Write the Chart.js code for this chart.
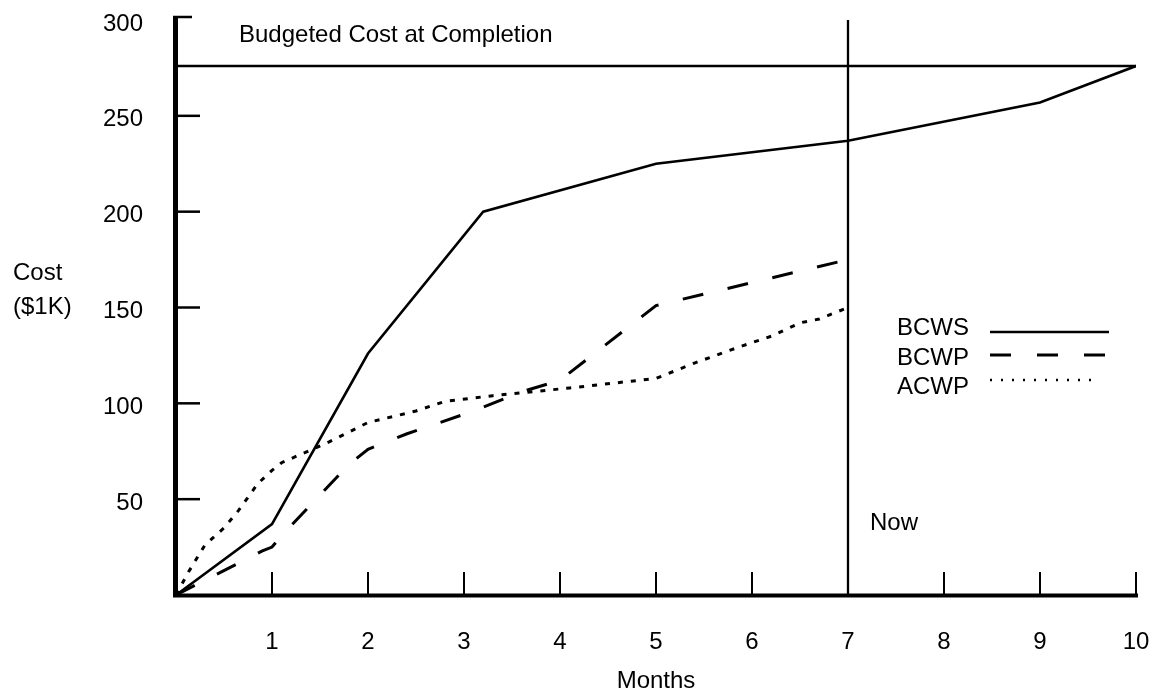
<!DOCTYPE html>
<html>
<head>
<meta charset="utf-8">
<title>Earned Value</title>
<script src="https://cdn.jsdelivr.net/npm/chart.js@4.4.1/dist/chart.umd.min.js"></script>
<style>
  html, body { margin: 0; padding: 0; background: #fff; }
  #wrap { width: 1156px; height: 697px; }
</style>
</head>
<body>
<div id="wrap"><canvas id="chart" width="1156" height="697"></canvas></div>
<script>
// values (months, cost in $1K)
const bcwsMonths = [0, 1, 2, 3.2, 5, 7, 9, 10];
const bcwsCost = [0, 37, 126, 200, 225, 237, 257, 276];

const bcwpMonths = [0, 0.9, 1, 1.1, 1.8, 2, 2.4, 3.1, 3.6, 4, 5, 7];
const bcwpCost = [0, 23, 25, 31, 68, 76, 84, 96, 106, 112, 151, 175];

const acwpMonths = [0, 0.13, 0.3, 0.5, 0.65, 0.85, 1, 1.1, 1.6, 2, 2.5, 2.8, 3.3, 4.1, 5, 5.4, 5.9, 6.2, 6.5, 6.7, 7];
const acwpCost = [0, 12, 26, 35, 44, 58, 65, 69, 80, 90, 96, 101, 104, 108, 113, 121, 130, 135, 142, 144, 150];

const budgetAtCompletion = 276;
const nowMonth = 7;
const monthTicks = [1, 2, 3, 4, 5, 6, 7, 8, 9, 10];
const costTicks = [50, 100, 150, 200, 250, 300];

const FONT = "'Liberation Sans', Arial, sans-serif";

const pts = (xs, ys) => xs.map((x, i) => ({ x: x, y: ys[i] }));

const legendItems = [
    { label: "BCWS", dash: [], width: 2.6 },
    { label: "BCWP", dash: [21, 26], width: 3 },
    { label: "ACWP", dash: [2, 9], width: 2.6 }
];

// no extra room for half labels, the layout padding handles it
const noPad = s => {
    s.paddingTop = 0;
    s.paddingBottom = 0;
    s.paddingLeft = 0;
    s.paddingRight = 0;
};

// axes, inside ticks, notes and legend
const decor = {
    id: "decor",
    afterDatasetsDraw(c) {
        const ctx = c.ctx;
        const xs = c.scales.x, ys = c.scales.y;
        const x0 = xs.getPixelForValue(0);
        const y0 = ys.getPixelForValue(0);
        const yTop = ys.getPixelForValue(300);
        ctx.save();
        ctx.strokeStyle = "#000";
        ctx.lineCap = "butt";

        // y ticks pointing right
        ctx.lineWidth = 2.5;
        costTicks.forEach(v => {
            if (v === 300) return;
            const y = ys.getPixelForValue(v);
            ctx.beginPath();
            ctx.moveTo(x0, y);
            ctx.lineTo(x0 + 24, y);
            ctx.stroke();
        });
        ctx.beginPath();
        ctx.moveTo(x0 - 3, yTop - 3);
        ctx.lineTo(x0 + 16, yTop - 3);
        ctx.stroke();

        // x ticks pointing up
        ctx.lineWidth = 2;
        monthTicks.forEach(m => {
            const x = xs.getPixelForValue(m);
            ctx.beginPath();
            ctx.moveTo(x, y0);
            ctx.lineTo(x, y0 - 23);
            ctx.stroke();
        });

        // heavy axis lines
        ctx.lineWidth = 5;
        ctx.beginPath();
        ctx.moveTo(x0 - 0.5, yTop - 3);
        ctx.lineTo(x0 - 0.5, y0 + 2);
        ctx.stroke();
        ctx.lineWidth = 4;
        ctx.beginPath();
        ctx.moveTo(x0 - 3, y0 + 0.5);
        ctx.lineTo(xs.getPixelForValue(10) + 2, y0 + 0.5);
        ctx.stroke();

        // notes
        ctx.fillStyle = "#000";
        ctx.font = "24px " + FONT;
        ctx.textAlign = "left";
        ctx.textBaseline = "alphabetic";
        ctx.fillText("Budgeted Cost at Completion", 239, 42);
        ctx.fillText("Now", 870, 530);
        ctx.fillText("Cost", 13, 280);
        ctx.fillText("($1K)", 13, 314);

        // legend
        const lx = 897, lineX0 = 990, lineX1 = 1109;
        const baselines = [335, 365, 394];
        const lineYs = [332, 355, 380];
        legendItems.forEach((it, i) => {
            ctx.fillText(it.label, lx, baselines[i]);
            ctx.lineWidth = it.width;
            ctx.setLineDash(it.dash);
            ctx.beginPath();
            ctx.moveTo(lineX0, lineYs[i]);
            ctx.lineTo(i === 2 ? 1100 : lineX1, lineYs[i]);
            ctx.stroke();
        });
        ctx.setLineDash([]);
        ctx.restore();
    }
};

const line = (data, dash, width) => ({
    data: data,
    borderColor: "#000",
    borderWidth: width,
    borderDash: dash,
    pointRadius: 0,
    tension: 0,
    fill: false
});

new Chart(document.getElementById("chart").getContext("2d"), {
    type: "line",
    data: {
        datasets: [
            line(pts([0, 10], [budgetAtCompletion, budgetAtCompletion]), [], 2.3),
            line(pts([nowMonth, nowMonth], [0, 300]), [], 2.3),
            line(pts(bcwsMonths, bcwsCost), [], 2.6),
            line(pts(bcwpMonths, bcwpCost), [21, 25], 3),
            line(pts(acwpMonths, acwpCost), [5, 8], 3)
        ]
    },
    options: {
        responsive: false,
        animation: false,
        events: [],
        layout: { padding: { top: 20, right: 20, left: 0, bottom: 0 } },
        plugins: {
            legend: { display: false },
            tooltip: { enabled: false }
        },
        scales: {
            x: {
                type: "linear",
                min: 0,
                max: 10,
                afterFit: s => { s.height = 102; noPad(s); },
                afterBuildTicks: s => { s.ticks = [0].concat(monthTicks).map(v => ({ value: v })); },
                grid: { display: false, drawTicks: false },
                border: { display: false },
                ticks: {
                    padding: 33,
                    color: "#000",
                    font: { family: FONT, size: 24 },
                    maxRotation: 0,
                    autoSkip: false,
                    callback: v => (v === 0 ? "" : String(v))
                },
                title: {
                    display: true,
                    text: "Months",
                    color: "#000",
                    font: { family: FONT, size: 24 },
                    padding: { top: 0, bottom: 1 }
                }
            },
            y: {
                type: "linear",
                min: 0,
                max: 300,
                afterFit: s => { s.width = 176; noPad(s); },
                afterBuildTicks: s => { s.ticks = [0].concat(costTicks).map(v => ({ value: v })); },
                grid: { display: false, drawTicks: false },
                border: { display: false },
                ticks: {
                    padding: 33,
                    labelOffset: 4,
                    color: "#000",
                    font: { family: FONT, size: 24 },
                    autoSkip: false,
                    callback: v => (v === 0 ? "" : String(v))
                }
            }
        }
    },
    plugins: [decor]
});
</script>
</body>
</html>
